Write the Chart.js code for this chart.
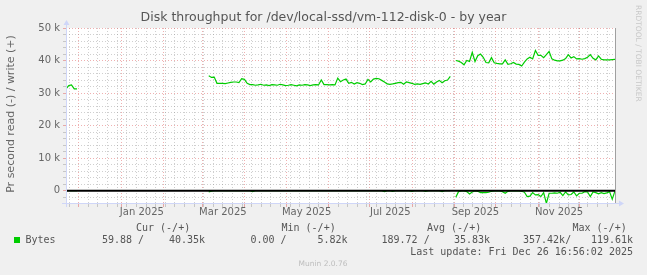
<!DOCTYPE html>
<html><head><meta charset="utf-8">
<script src="https://cdn.jsdelivr.net/npm/chart.js@4/dist/chart.umd.min.js"></script>
<style>html,body{margin:0;padding:0;background:#f0f0f0;}canvas{display:block;}</style>
</head><body>
<canvas id="c" width="647" height="275"></canvas>
<script>
// ---------- data ----------
const TITLE = 'Disk throughput for /dev/local-ssd/vm-112-disk-0 - by year';
const Y_TITLE = 'Pr second read (-) / write (+)';
const CREDIT = 'RRDTOOL / TOBI OETIKER';
const START_MS = Date.UTC(2024, 10, 21, 16, 56, 2);   // graph start (400 days before last update)
const SPAN_DAYS = 400;
const STEP_DAYS = 2;
const SEG_START_DAYS = [0, 104, 284];                  // day offsets where each data run starts

// write (+), in k bytes/s
const writeSeg1 = [31.3, 32.3, 32.5, 31.3, 31.3];
const writeSeg2 = [35.3,34.8,34.9,33.0,33.0,33.0,32.9,33.1,33.3,33.4,33.4,33.2,34.4,34.2,33.0,32.6,
  32.6,32.4,32.5,32.7,32.4,32.5,32.3,32.6,32.5,32.4,32.7,32.5,32.3,32.4,32.6,32.4,32.2,32.5,32.4,32.6,32.5,32.3,32.5,32.6,32.5,
  34.0,32.6,32.6,32.5,32.6,32.5,
  34.6,33.5,34.0,34.3,33.0,33.3,32.8,33.2,33.0,32.6,32.8,
  34.2,33.4,34.3,34.5,34.4,33.9,33.4,32.8,32.7,32.8,
  33.0,33.2,33.3,32.7,33.4,33.2,33.0,32.7,32.8,32.7,
  32.9,33.1,32.8,33.6,32.7,33.4,33.9,33.2,33.8,34.0,35.1];
const writeSeg3 = [40.0,39.8,39.4,38.7,40.0,39.7,42.5,39.7,41.5,42.0,
  41.0,39.4,39.3,40.9,39.3,39.1,39.0,39.0,40.2,38.8,
  39.0,39.4,38.9,38.8,38.3,39.5,40.5,41.0,40.5,43.1,
  41.6,41.6,40.9,41.8,42.8,40.5,40.1,39.9,39.9,40.1,
  40.6,41.8,40.8,41.2,40.5,40.6,40.4,40.6,41.0,41.8,
  40.7,40.2,41.4,40.4,40.2,40.2,40.2,40.3,40.35];

// read (-), in k bytes/s (plotted below zero)
const readSeg1 = [0,0,0,0,0];
const readSeg2 = [0.4,0.2,0,0,0,0,0,0,0,0,
  0,0,0,0,0,0,0.3,0,0,0,
  0,0,0,0,0,0,0,0,0,0,
  0,0,0,0,0,0,0,0,0,0,
  0,0,0,0,0,0,0,0,0,0,
  0,0,0,0,0,0,0,0,0,0,
  0,0,0,0,0.3,0,0,0.2,0,0,
  0,0,0,0,0.2,0,0,0,0,0.2,
  0,0,0,0,0,0.3,0,0,0];
const readSeg3 = [2.0,0.3,0.1,0.1,0.3,1.0,0.4,0.1,0.2,0.6,
  0.6,0.6,0.5,0.2,0.1,0.1,0.1,0.3,0.8,0.2,
  0.1,0.1,0.1,0.1,0.2,0.5,1.8,1.7,0.6,1.3,
  1.2,1.8,0.6,3.9,0.8,0.8,0.7,0.8,0.5,1.5,
  0.4,1.3,1.2,0.4,1.6,0.8,0.8,0.3,0.4,1.8,
  0.4,0.6,1.0,0.6,0.9,0.7,0.3,2.6,0.06];

const Y_MIN = -3.8, Y_MAX = 50;
const yMajorValues = [0, 10, 20, 30, 40, 50];
const yMajorLabels = ['0', '10 k', '20 k', '30 k', '40 k', '50 k'];
const xLabelMonths = [[2025,0],[2025,2],[2025,4],[2025,6],[2025,8],[2025,10]];
const xLabelTexts = ['Jan 2025','Mar 2025','May 2025','Jul 2025','Sep 2025','Nov 2025'];
const legendHeaders = ['Cur (-/+)', 'Min (-/+)', 'Avg (-/+)', 'Max (-/+)'];
const legendSeries = 'Bytes';
const legendValues = ['59.88 /', '40.35k', '0.00 /', '5.82k', '189.72 /', '35.83k', '357.42k/', '119.61k'];
const LAST_UPDATE = 'Last update: Fri Dec 26 16:56:02 2025';
const VERSION = 'Munin 2.0.76';

// ---------- helpers ----------
const DAY = 86400000;
const dayOf = ms => (ms - START_MS) / DAY;
function buildPoints(segs, sign) {
  const pts = [];
  segs.forEach((vals, s) => {
    if (s > 0) pts.push({x: SEG_START_DAYS[s] - 1, y: null});
    vals.forEach((v, k) => pts.push({x: SEG_START_DAYS[s] + k * STEP_DAYS, y: sign * v}));
  });
  return pts;
}
// month boundaries (major grid) and weekly Sundays (minor grid)
const monthDays = [];
for (let y = 2024, m = 11; ; ) {
  const d = dayOf(Date.UTC(y, m, 1));
  if (d > SPAN_DAYS) break;
  monthDays.push(d);
  m++; if (m > 11) { m = 0; y++; }
}
const weekDays = [];
for (let d = dayOf(Date.UTC(2024, 10, 24)); d <= SPAN_DAYS; d += 7) {
  if (!monthDays.some(md => Math.abs(md - d) < 0.01)) weekDays.push(d);
}
const xLabelDays = xLabelMonths.map(([y, m]) => dayOf(Date.UTC(y, m, 1)) + 15);

const FONT = '"DejaVu Sans", sans-serif';
const MONO = '"DejaVu Sans Mono", monospace';
const GREEN = '#00cc00';
const MGRID = 'rgba(220,80,80,0.45)';
const GRID = 'rgba(140,140,140,0.42)';
const AXIS = '#cfd6f8';

const decor = {
  id: 'decor',
  beforeDraw(chart) {
    const {ctx, chartArea: a} = chart;
    ctx.save();
    ctx.fillStyle = '#f0f0f0';
    ctx.fillRect(0, 0, chart.width, chart.height);
    ctx.fillStyle = '#ffffff';
    ctx.fillRect(a.left, a.top, a.right - a.left, a.bottom - a.top);
    ctx.restore();
  },
  afterDatasetsDraw(chart) {
    const {ctx, chartArea: a, scales} = chart;
    const y0 = scales.y.getPixelForValue(0);
    ctx.save();
    // zero rule
    ctx.strokeStyle = '#000';
    ctx.lineWidth = 2;
    ctx.beginPath(); ctx.moveTo(a.left, y0); ctx.lineTo(a.right, y0); ctx.stroke();
    // right frame line
    ctx.lineWidth = 1;
    ctx.strokeStyle = '#a0a0a0';
    ctx.beginPath(); ctx.moveTo(a.right + 0.5, a.top); ctx.lineTo(a.right + 0.5, a.bottom); ctx.stroke();
    // axes with arrows
    ctx.strokeStyle = AXIS; ctx.fillStyle = AXIS;
    const lx = a.left + 0.5, by = a.bottom + 0.5;
    ctx.beginPath(); ctx.moveTo(lx, a.bottom + 4); ctx.lineTo(lx, a.top - 4); ctx.stroke();
    ctx.beginPath(); ctx.moveTo(a.left - 4, by); ctx.lineTo(a.right + 5, by); ctx.stroke();
    ctx.beginPath(); ctx.moveTo(lx - 3, a.top - 3); ctx.lineTo(lx + 3, a.top - 3); ctx.lineTo(lx, a.top - 8); ctx.closePath(); ctx.fill();
    ctx.beginPath(); ctx.moveTo(a.right + 4, by - 3); ctx.lineTo(a.right + 4, by + 3); ctx.lineTo(a.right + 9, by); ctx.closePath(); ctx.fill();
    ctx.restore();
  },
  afterDraw(chart) {
    const {ctx} = chart;
    ctx.save();
    ctx.textBaseline = 'middle';
    // title
    ctx.fillStyle = '#555';
    ctx.font = '12.5px ' + FONT;
    ctx.textAlign = 'center';
    ctx.fillText(TITLE, 323.5, 18);
    // y title
    ctx.fillStyle = '#666';
    ctx.font = '11px ' + FONT;
    ctx.save(); ctx.translate(11, 114); ctx.rotate(-Math.PI / 2);
    ctx.fillText(Y_TITLE, 0, 0); ctx.restore();
    // credit
    ctx.fillStyle = '#c8c8c8';
    ctx.font = '7.5px ' + FONT;
    ctx.save(); ctx.translate(638, 5); ctx.rotate(Math.PI / 2);
    ctx.textAlign = 'left'; ctx.fillText(CREDIT, 0, 0); ctx.restore();
    // legend
    ctx.fillStyle = '#555';
    ctx.font = '10px ' + MONO;
    ctx.textAlign = 'left';
    const hx = [136, 281.5, 427, 572.5];
    legendHeaders.forEach((t, i) => ctx.fillText(t, hx[i], 228));
    ctx.fillStyle = GREEN;
    ctx.fillRect(14, 237, 6, 6);
    ctx.fillStyle = '#555';
    ctx.fillText(legendSeries, 25.5, 240);
    const vx = [102, 169, 250.5, 317.5, 381.5, 454, 523, 591];
    legendValues.forEach((t, i) => ctx.fillText(t, vx[i], 240));
    ctx.textAlign = 'right';
    ctx.fillText(LAST_UPDATE, 633, 252);
    ctx.textAlign = 'center';
    ctx.fillStyle = '#bdbdbd';
    ctx.font = '7.5px ' + FONT;
    ctx.fillText(VERSION, 323, 264);
    ctx.restore();
  }
};

new Chart(document.getElementById('c'), {
  type: 'line',
  data: {
    datasets: [
      {label: 'read', data: buildPoints([readSeg1, readSeg2, readSeg3], -1), borderColor: GREEN, borderWidth: 1.2, pointRadius: 0, tension: 0, spanGaps: false},
      {label: 'write', data: buildPoints([writeSeg1, writeSeg2, writeSeg3], 1), borderColor: GREEN, borderWidth: 1.2, pointRadius: 0, tension: 0, spanGaps: false}
    ]
  },
  options: {
    responsive: false,
    animation: false,
    devicePixelRatio: 1,
    layout: {padding: {top: 28, right: 32, left: 0, bottom: 0}},
    plugins: {legend: {display: false}, tooltip: {enabled: false}, title: {display: false}},
    scales: {
      x: {
        type: 'linear', min: 0, max: SPAN_DAYS, position: 'bottom',
        afterBuildTicks: s => {
          s.ticks = weekDays.map(v => ({value: v})).concat(monthDays.map(v => ({value: v, major: true})))
            .sort((p, q) => p.value - q.value);
        },
        afterFit: s => { s.height = 0; },
        ticks: {display: false},
        grid: {
          color: c => (c.tick && c.tick.major) ? MGRID : GRID,
          lineWidth: 1, drawTicks: true, tickLength: 4
        },
        border: {display: false, dash: [1, 2]}
      },
      xl: {
        type: 'linear', min: 0, max: SPAN_DAYS, position: 'bottom',
        afterBuildTicks: s => { s.ticks = xLabelDays.map(v => ({value: v})); },
        afterFit: s => { s.height = 72; },
        ticks: {
          autoSkip: false, maxRotation: 0, padding: 3, color: '#666',
          font: {family: FONT, size: 10},
          callback: (v, i) => xLabelTexts[i]
        },
        grid: {display: false, drawTicks: false},
        border: {display: false}
      },
      y: {
        type: 'linear', min: Y_MIN, max: Y_MAX,
        afterBuildTicks: s => {
          const t = [];
          for (let v = -2; v <= Y_MAX; v += 2) t.push({value: v, major: yMajorValues.includes(v)});
          s.ticks = t;
        },
        afterFit: s => { s.width = 66; },
        ticks: {
          autoSkip: false, padding: 3, color: '#666',
          font: {family: FONT, size: 10},
          callback: v => { const i = yMajorValues.indexOf(v); return i >= 0 ? yMajorLabels[i] : ''; }
        },
        grid: {
          color: c => (c.tick && c.tick.major) ? MGRID : GRID,
          lineWidth: 1, drawTicks: true, tickLength: 3
        },
        border: {display: false, dash: [1, 2]}
      }
    }
  },
  plugins: [decor]
});
</script>
</body></html>
